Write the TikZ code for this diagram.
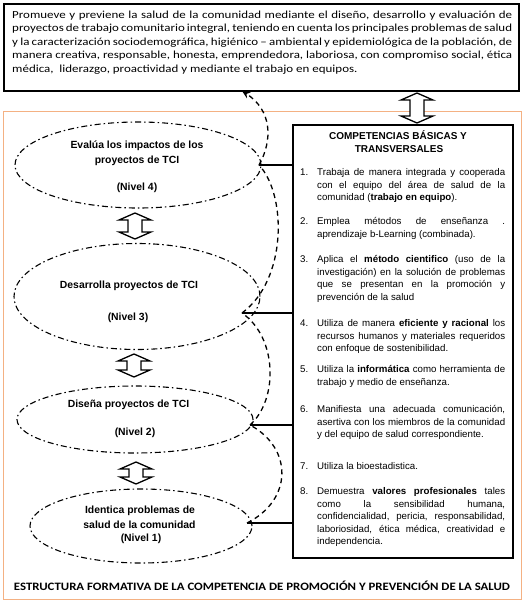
\documentclass[tikz,border=0pt]{standalone}
\usepackage{fontspec}
\setmainfont{Carlito}
\newfontfamily\arialf{Liberation Sans}
\newfontfamily\topfont[FakeStretch=1.2]{Carlito}
\newfontfamily\capfont[FakeStretch=1.135]{Carlito}
\usetikzlibrary{shapes.geometric,arrows.meta}
\definecolor{frameorange}{RGB}{244,177,131}
\newcommand{\Jl}[1]{\makebox[188pt][s]{#1}}
\newcommand{\Jt}[1]{\makebox[500pt][s]{#1}}
\newcommand{\Num}[1]{\makebox[17pt][l]{#1}}
\newcommand{\dblarrow}[4]{%
  \coordinate (#1) at (#2,{(#3+#4)/2});
  \draw[darr] (#2,#3) -- (#2+16,#3+7) -- (#2+7,#3+7) -- (#2+7,#4-7) -- (#2+16,#4-7) -- (#2,#4)
    -- (#2-16,#4-7) -- (#2-7,#4-7) -- (#2-7,#3+7) -- (#2-16,#3+7) -- cycle;}
\begin{document}
\begin{tikzpicture}[x=1pt,y=-1pt,
  ell/.style={ellipse, draw, line width=1.1pt, dash pattern=on 6pt off 3pt on 1.5pt off 3pt, inner sep=0pt},
  etext/.style={inner sep=0pt, anchor=base, font=\arialf\bfseries\fontsize{10.4}{12}\selectfont},
  itm/.style={inner sep=0pt, anchor=base west, font=\arialf\fontsize{9.7}{12.5}\selectfont},
  link/.style={line width=1.2pt},
  flow/.style={line width=1.3pt, dash pattern=on 5pt off 4pt},
  darr/.style={draw, fill=white, line width=1.3pt, line join=miter},
]
\useasboundingbox (0,0) rectangle (523,602);
% orange frame
\draw[frameorange, line width=1pt] (3,111) rectangle (521,599);
% top box
\node[draw, line width=1.8pt, anchor=north west, minimum width=515pt, minimum height=87pt, inner sep=0pt] (top) at (3,3) {};
\node[inner sep=0pt, anchor=base west, font=\topfont\fontsize{10.8}{13.5}\selectfont] (toptext) at (12,18.3) {\parbox[t]{500pt}{%
\Jt{Promueve y previene la salud de la comunidad mediante el diseño, desarrollo y evaluación de}\\
\Jt{proyectos de trabajo comunitario integral, teniendo en cuenta los principales problemas de salud}\\
\Jt{y la caracterización sociodemográfica, higiénico – ambiental y epidemiológica de la población,  de}\\
\Jt{manera creativa, responsable, honesta, emprendedora, laboriosa, con compromiso social, ética}\\
médica, \ liderazgo, proactividad y mediante el trabajo en equipos.}};
% competency box
\node[draw, line width=2pt, anchor=north west, minimum width=220pt, minimum height=433pt, inner sep=0pt] (comp) at (292,124) {};
\node[inner sep=0pt, anchor=base, font=\arialf\bfseries\fontsize{10}{12}\selectfont] (ct1) at (398,139.6) {COMPETENCIAS BÁSICAS Y};
\node[inner sep=0pt, anchor=base, font=\arialf\bfseries\fontsize{10}{12}\selectfont] (ct2) at (399,152.6) {TRANSVERSALES};
\node[itm] (i1) at (300,175.5) {\Num{1.}\parbox[t]{188pt}{\Jl{Trabaja de manera integrada y cooperada}\\\Jl{con el equipo del área de salud de la}\\comunidad (\textbf{trabajo en equipo}).}};
\node[itm] (i2) at (300,224.5) {\Num{2.}\parbox[t]{188pt}{\Jl{Emplea métodos de enseñanza .}\\aprendizaje b-Learning (combinada).}};
\node[itm] (i3) at (300,262.5) {\Num{3.}\parbox[t]{188pt}{\Jl{Aplica el \textbf{método cientifico} (uso de la}\\\Jl{investigación) en la solución de problemas}\\\Jl{que se presentan en la promoción y}\\prevención de la salud}};
\node[itm] (i4) at (300,326.5) {\Num{4.}\parbox[t]{188pt}{\Jl{Utiliza de manera \textbf{eficiente y racional} los}\\\Jl{recursos humanos y materiales requeridos}\\con enfoque de sostenibilidad.}};
\node[itm] (i5) at (300,372.5) {\Num{5.}\parbox[t]{188pt}{\Jl{Utiliza la \textbf{informática} como herramienta de}\\trabajo y medio de enseñanza.}};
\node[itm] (i6) at (300,412.5) {\Num{6.}\parbox[t]{188pt}{\Jl{Manifiesta una adecuada comunicación,}\\\Jl{asertiva con los miembros de la comunidad}\\y del equipo de salud correspondiente.}};
\node[itm] (i7) at (300,469.5) {\Num{7.}\parbox[t]{188pt}{Utiliza la bioestadistica.}};
\node[itm] (i8) at (300,494.5) {\Num{8.}\parbox[t]{188pt}{\Jl{Demuestra \textbf{valores profesionales} tales}\\\Jl{como la sensibilidad humana,}\\\Jl{confidencialidad, pericia, responsabilidad,}\\\Jl{laboriosidad, ética médica, creatividad e}\\independencia.}};
% ellipses
\node[ell, minimum width=246pt, minimum height=86pt] (e4) at (138,165) {};
\node[ell, minimum width=246pt, minimum height=106pt] (e3) at (137,296.5) {};
\node[ell, minimum width=236pt, minimum height=67pt] (e2) at (135,419.5) {};
\node[ell, minimum width=222pt, minimum height=74pt] (e1) at (141,526) {};
\node[etext] (e4a) at (137,148.7) {Evalúa los impactos de los};
\node[etext] (e4b) at (137,163.7) {proyectos de TCI};
\node[etext] (e4c) at (137,190.7) {(Nivel 4)};
\node[etext] (e3a) at (129,288.7) {Desarrolla proyectos de TCI};
\node[etext] (e3b) at (128,320.4) {(Nivel 3)};
\node[etext] (e2a) at (128.5,407) {Diseña proyectos de TCI};
\node[etext] (e2b) at (135,435.7) {(Nivel 2)};
\node[etext] (e1a) at (140,513.7) {Identica problemas de};
\node[etext] (e1b) at (139.5,528.7) {salud de la comunidad};
\node[etext] (e1c) at (141,541.7) {(Nivel 1)};
% anchors
\coordinate (a4) at (259,165);
\coordinate (a3) at (242,313);
\coordinate (a2) at (250,425);
\coordinate (a1) at (247,523);
\coordinate (t4) at (242,91);
% links to box
\draw[link] (a4) -- (a4 -| comp.west);
\draw[link] (a3) -- (a3 -| comp.west);
\draw[link] (a2) -- (a2 -| comp.west);
\draw[link] (a1) -- (a1 -| comp.west);
% dashed flow
\draw[flow] (a1) .. controls (293,500) and (293,448) .. (a2);
\draw[flow] (a2) .. controls (278,400) and (278,338) .. (a3);
\draw[flow] (a3) .. controls (287,280) and (287,195) .. (a4);
\draw[flow, -{Stealth[length=8pt,width=7pt]}] (a4) .. controls (273,140) and (272,110) .. (t4);
% double arrows
\dblarrow{d43}{135}{213}{239}
\dblarrow{d32}{134}{354}{377}
\dblarrow{d21}{136}{462}{484}
\dblarrow{dtop}{417}{93}{123}
% caption
\node[inner sep=0pt, anchor=base, font=\capfont\bfseries\fontsize{11.3}{13}\selectfont] (cap) at (262,590) {ESTRUCTURA FORMATIVA DE LA COMPETENCIA DE PROMOCIÓN Y PREVENCIÓN DE LA SALUD};
\end{tikzpicture}
\end{document}
